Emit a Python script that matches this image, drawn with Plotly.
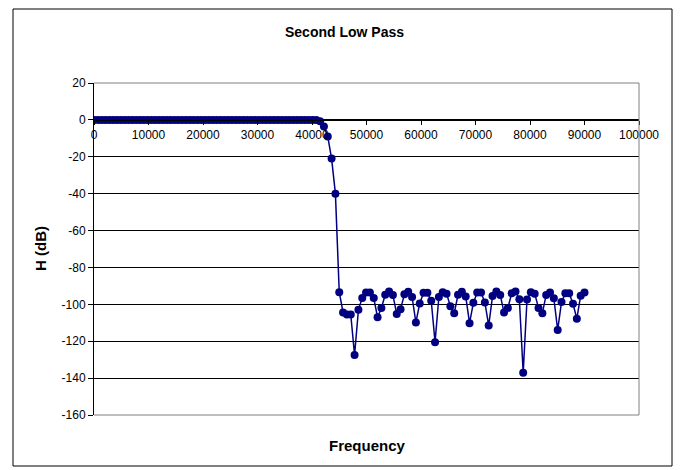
import plotly.graph_objects as go

# Sampled frequency grid step (Hz) read from point spacing: 129 points from 0 to 90000
freq_step = 703.125

# Magnitude response in dB, one value per sample (index 0 .. 128)
h_db = [
    # passband (idx 0-57)
    0.0, 0.0, 0.0, 0.0, 0.0, 0.0, 0.0, 0.0, 0.0, 0.0,
    0.0, 0.0, 0.0, 0.0, 0.0, 0.0, 0.0, 0.0, 0.0, 0.0,
    0.0, 0.0, 0.0, 0.0, 0.0, 0.0, 0.0, 0.0, 0.0, 0.0,
    0.0, 0.0, 0.0, 0.0, 0.0, 0.0, 0.0, 0.0, 0.0, 0.0,
    0.0, 0.0, 0.0, 0.0, 0.0, 0.0, 0.0, 0.0, 0.0, 0.0,
    0.0, 0.0, 0.0, 0.0, 0.0, 0.0, 0.0, 0.0,
    # transition (idx 58-64)
    -0.1, -0.8, -3.6, -9.0, -21.0, -40.0, -93.4,
    # stopband (idx 65-128)
    -104.4, -105.5, -105.5, -127.5, -103.0, -96.5, -93.6, -93.6, -96.6, -107.0,
    -102.0, -94.8, -93.0, -95.0, -105.3, -102.6, -94.6, -93.2, -96.0, -109.8,
    -99.5, -93.7, -93.7, -98.0, -120.5, -96.0, -93.5, -94.2, -101.0, -104.8,
    -94.8, -93.2, -95.7, -110.2, -99.2, -93.6, -93.6, -99.0, -111.5, -95.5,
    -93.0, -94.9, -104.4, -102.0, -94.0, -93.0, -97.2, -137.1, -97.4, -93.5,
    -94.2, -102.0, -104.8, -94.9, -93.6, -96.7, -113.9, -98.8, -94.0, -94.0,
    -99.7, -107.8, -95.3, -93.6,
]
freqs = [i * freq_step for i in range(len(h_db))]

x_ticks = [0, 10000, 20000, 30000, 40000, 50000, 60000, 70000, 80000, 90000, 100000]
y_ticks = [20, 0, -20, -40, -60, -80, -100, -120, -140, -160]

navy = "#000080"
font_family = "Liberation Sans, Arial, sans-serif"

fig = go.Figure()
fig.add_trace(go.Scatter(
    x=freqs, y=h_db, mode="lines+markers",
    line=dict(color=navy, width=1.5),
    marker=dict(color=navy, size=8, symbol="circle"),
    showlegend=False,
))

# page body has an 8px margin; lay out in screen pixels and offset
OFF = 8
W, H = 682 - OFF, 470 - OFF
L = 94 - OFF
T = 83 - OFF
R = 682 - 639
B = 470 - 415
pw, ph = W - L - R, H - T - B


def px_x(p):
    return (p - OFF - L) / pw


def px_y(p):
    return (H - B - (p - OFF)) / ph


fig.update_layout(
    width=W, height=H,
    margin=dict(l=L, r=R, t=T, b=B),
    paper_bgcolor="white", plot_bgcolor="white",
    font=dict(family=font_family, size=12, color="black"),
    xaxis=dict(
        range=[0, 100000], tickvals=x_ticks, ticktext=[str(v) for v in x_ticks],
        showgrid=False, zeroline=False,
        showline=True, linecolor="black", linewidth=1,
        ticks="outside", ticklen=4, tickcolor="black",
        anchor="free", position=(0 - (-160)) / 180,
        tickfont=dict(size=12),
    ),
    yaxis=dict(
        range=[-160, 20], tickvals=y_ticks, ticktext=[str(v) for v in y_ticks],
        showgrid=True, gridcolor="black", gridwidth=1, zeroline=False,
        showline=True, linecolor="black", linewidth=1,
        ticks="outside", ticklen=5, tickcolor="black",
        tickfont=dict(size=12),
    ),
    shapes=[
        # plot area border (gray) - top, right, bottom
        dict(type="line", xref="paper", yref="paper", x0=0, x1=1, y0=1, y1=1,
             line=dict(color="#808080", width=1)),
        dict(type="line", xref="paper", yref="paper", x0=1, x1=1, y0=0, y1=1,
             line=dict(color="#808080", width=1)),
        dict(type="line", xref="paper", yref="paper", x0=0, x1=1, y0=0, y1=0,
             line=dict(color="#808080", width=1)),
        # outer chart frame
        dict(type="rect", xref="paper", yref="paper",
             x0=px_x(13), x1=px_x(672), y0=px_y(466), y1=px_y(9),
             line=dict(color="black", width=1), layer="below"),
    ],
    annotations=[
        dict(text="<b>Second Low Pass</b>", xref="paper", yref="paper",
             x=px_x(344), y=px_y(32), showarrow=False,
             xanchor="center", yanchor="middle",
             font=dict(size=14, family=font_family)),
        dict(text="<b>Frequency</b>", xref="paper", yref="paper",
             x=px_x(367), y=px_y(445), showarrow=False,
             xanchor="center", yanchor="middle",
             font=dict(size=15, family=font_family)),
        dict(text="<b>H (dB)</b>", xref="paper", yref="paper",
             x=px_x(40), y=px_y(249), showarrow=False, textangle=-90,
             xanchor="center", yanchor="middle",
             font=dict(size=15, family=font_family)),
    ],
)

fig.write_html("out.html")
